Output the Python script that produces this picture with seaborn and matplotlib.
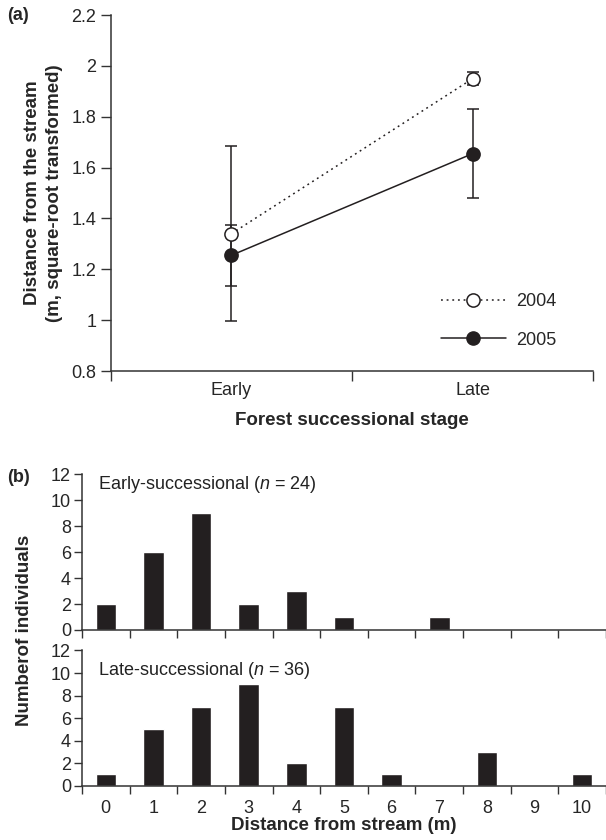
import pandas as pd
import seaborn as sns
import matplotlib.pyplot as plt
from matplotlib.lines import Line2D

# ---- data: panel (a)
stages = ['Early', 'Late']
years = ['2004', '2005']
mean_2004 = [1.34, 1.95]
err_2004 = [0.345, 0.025]
mean_2005 = [1.255, 1.655]
err_2005 = [0.12, 0.175]

# ---- data: panel (b)
distances = [0, 1, 2, 3, 4, 5, 6, 7, 8, 9, 10]
early_counts = [2, 6, 9, 2, 3, 1, 0, 1, 0, 0, 0]
late_counts = [1, 5, 7, 9, 2, 7, 1, 0, 3, 0, 1]

sns.set_style('ticks')
plt.rcParams['font.family'] = ['Liberation Sans', 'DejaVu Sans']
plt.rcParams['mathtext.fontset'] = 'custom'
plt.rcParams['mathtext.it'] = 'Liberation Sans:italic'
plt.rcParams['mathtext.rm'] = 'Liberation Sans'

dark = '#231f20'
axcol = '#333333'
tick_fs = 13
label_fs = 13.5

df_a = pd.DataFrame({
    'stage': stages * 2,
    'year': [years[0]] * 2 + [years[1]] * 2,
    'value': mean_2004 + mean_2005,
})
errs = {years[0]: err_2004, years[1]: err_2005}
means = {years[0]: mean_2004, years[1]: mean_2005}

fig = plt.figure(figsize=(6.06, 8.4), dpi=100)
ax_a = fig.add_axes([0.1827, 0.5583, 0.7964, 0.4238])
ax_b1 = fig.add_axes([0.1353, 0.25, 0.8647, 0.1857])
ax_b2 = fig.add_axes([0.1353, 0.0646, 0.8647, 0.1610])

# %% panel (a)
sns.pointplot(data=df_a, x='stage', y='value', hue='year', order=stages,
              hue_order=years, palette=[dark, dark], markers=['o', 'o'],
              linestyles=[':', '-'], errorbar=None, dodge=False, legend=False,
              ax=ax_a, markersize=9.5, linewidth=1.1, markeredgewidth=1.1)
lines = ax_a.lines[:2]
lines[0].set_markerfacecolor('white')
lines[0].set_dashes([1.2, 2.5])
for ln, yr in zip(lines, years):
    ln.set_zorder(3)
    ax_a.errorbar(ln.get_xdata(), means[yr], yerr=errs[yr], fmt='none',
                  ecolor=dark, elinewidth=1.1, capsize=4, capthick=1.1, zorder=1)

ax_a.set_xlim(-0.5, 1.5)
ax_a.set_ylim(0.8, 2.2)
ax_a.set_yticks([0.8, 1.0, 1.2, 1.4, 1.6, 1.8, 2.0, 2.2])
ax_a.set_yticklabels(['0.8', '1', '1.2', '1.4', '1.6', '1.8', '2', '2.2'], fontsize=tick_fs)
ax_a.set_xticks([0, 1])
ax_a.set_xticklabels(stages, fontsize=tick_fs)
ax_a.set_xticks([-0.5, 0.5, 1.5], minor=True)
ax_a.tick_params(axis='x', which='major', length=0, pad=8)
ax_a.tick_params(axis='x', which='minor', length=7, width=1, color=axcol)
ax_a.tick_params(axis='y', length=7, width=1, color=axcol)
ax_a.set_xlabel('Forest successional stage', fontsize=label_fs, fontweight='bold', labelpad=9)
ax_a.set_ylabel('Distance from the stream\n(m, square-root transformed)',
                fontsize=label_fs, fontweight='bold', labelpad=6, linespacing=1.4)
for s in ['left', 'bottom']:
    ax_a.spines[s].set_color(axcol)
    ax_a.spines[s].set_linewidth(1.1)
sns.despine(ax=ax_a)

handles = [
    Line2D([], [], color=dark, ls=(0, (1.2, 2.5)), lw=1.1, marker='o', markersize=9.5,
           markerfacecolor='white', markeredgewidth=1.1, label=years[0]),
    Line2D([], [], color=dark, ls='-', lw=1.1, marker='o', markersize=9.5,
           markerfacecolor=dark, label=years[1]),
]
ax_a.legend(handles=handles, loc='upper left', bbox_to_anchor=(0.65, 0.265),
            frameon=False, fontsize=tick_fs, handlelength=3.6, labelspacing=1.2,
            handletextpad=0.6)

# %% panel (b)
for ax, counts, title in [(ax_b1, early_counts, 'Early-successional ($\\it{n}$ = 24)'),
                          (ax_b2, late_counts, 'Late-successional ($\\it{n}$ = 36)')]:
    sns.barplot(x=distances, y=counts, order=distances, color=dark, width=0.43,
                saturation=1, ax=ax)
    ax.set_xlim(-0.5, 10.5)
    ax.set_ylim(0, 12)
    ax.set_yticks(range(0, 13, 2))
    ax.tick_params(axis='y', labelsize=tick_fs, length=6, width=1, color=axcol, pad=2)
    ax.set_xticks([x - 0.5 for x in distances] + [10.5], minor=True)
    ax.tick_params(axis='x', which='minor', length=6, width=1, color=axcol)
    ax.tick_params(axis='x', which='major', length=0, labelsize=tick_fs, pad=10)
    for s in ['left', 'bottom']:
        ax.spines[s].set_color(axcol)
        ax.spines[s].set_linewidth(1.1)
    sns.despine(ax=ax)
    ax.text(0.031, 0.93 if ax is ax_b1 else 0.85, title, transform=ax.transAxes,
            fontsize=tick_fs, va='center', ha='left', color='#222222')
    ax.set_ylabel('')

ax_b1.set_xticklabels([])
ax_b2.set_xticklabels([str(d) for d in distances])
ax_b2.set_xlabel('Distance from stream (m)', fontsize=label_fs, fontweight='bold', labelpad=0)

fig.text(0.04, 0.25, 'Numberof individuals', rotation=90, fontsize=label_fs,
         fontweight='bold', ha='center', va='center')
fig.text(0.012, 0.981, '(a)', fontsize=tick_fs, fontweight='bold', va='center')
fig.text(0.012, 0.432, '(b)', fontsize=tick_fs, fontweight='bold', va='center')

plt.savefig('out.png', dpi=100)
